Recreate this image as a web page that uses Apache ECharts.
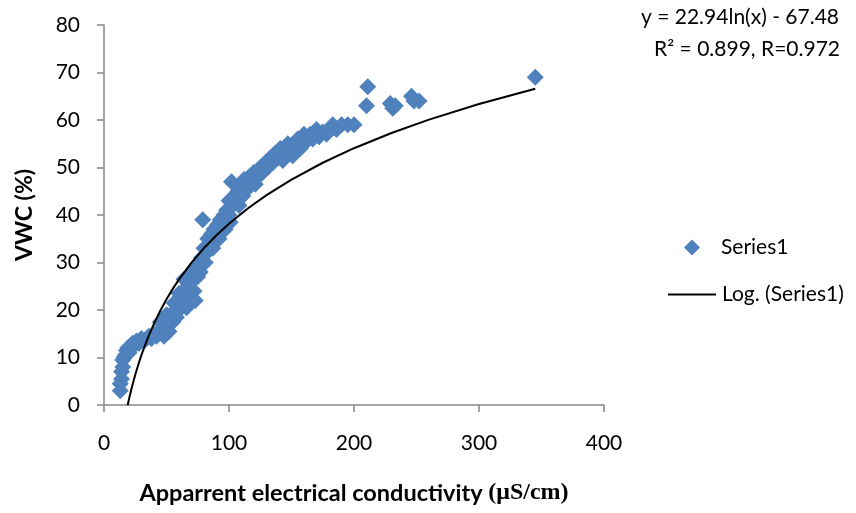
<!DOCTYPE html>
<html>
<head>
<meta charset="utf-8">
<script src="https://cdn.jsdelivr.net/npm/echarts@6/dist/echarts.min.js"></script>
<style>
  html, body { margin: 0; padding: 0; background: #fff; }
  #chart { width: 856px; height: 513px; }
</style>
</head>
<body>
<div id="chart"></div>
<script>
// apparent EC (uS/cm) and VWC (%)
var ecValues = [
  13, 13, 14, 14, 15, 15, 16, 17, 18, 19, 20, 21, 23, 24, 26, 28, 30, 32, 34, 36,
  38, 40, 42, 44, 45, 46, 48, 48, 50, 50, 52, 52, 54, 55, 56, 57, 58, 58, 60, 60,
  61, 62, 63, 64, 65, 66, 66, 67, 68, 70, 71, 72, 73, 74, 75, 76, 77, 78, 79, 80,
  81, 82, 83, 85, 86, 87, 88, 90, 91, 92, 93, 95, 96, 97, 98, 100, 100, 101, 102, 103,
  104, 106, 107, 108, 110, 111, 112, 113, 115, 116, 118, 120, 121, 123, 125, 127, 129, 131, 133, 135,
  137, 139, 141, 143, 145, 147, 149, 151, 153, 155, 157, 160, 162, 165, 167, 170, 172, 175, 178, 180,
  183, 186, 190, 195, 200, 210, 211, 229, 231, 233, 246, 248, 252, 345
];
var vwcValues = [
  3, 4.5, 5.5, 7, 8, 9.5, 10, 10.5, 11.5, 12, 11, 12.5, 13, 12.5, 13.5, 13, 14, 13.5, 14, 14.5,
  14, 15, 14.5, 15.5, 17.5, 16, 17, 14.5, 16.5, 19, 18, 15.5, 19, 17.5, 21.5, 20, 21, 18.5, 20, 23.5,
  22, 23, 21, 26.5, 24, 22.5, 20.5, 25, 27, 26, 28, 24, 22, 29, 27, 30, 28, 31, 39, 33,
  30, 32, 35, 34, 36, 33, 37, 36, 38, 35, 39, 38, 40, 37, 41, 40, 43, 38.5, 47, 42,
  44, 43, 45, 42, 46, 44, 47.5, 45, 46, 48, 47, 49, 46.5, 48, 50, 49, 51, 50, 52, 51,
  53, 52, 54, 51.5, 53, 55, 54, 52.5, 55, 56, 54, 57, 55.5, 57, 56, 58, 56.5, 57.5, 57, 58,
  59, 58, 59, 59, 59, 63, 67, 63.5, 62.5, 63, 65, 64, 64, 69
];

// log trendline y = 22.94ln(x) - 67.48, values worked out at these x
var trendX = [18.9, 19, 20, 21, 22, 24, 26, 28, 30, 33, 36, 40, 45, 50, 55, 60, 70, 80, 90, 100, 115, 130, 150, 175, 200, 230, 260, 300, 345];
var trendY = [-0.06, 0.07, 1.24, 2.36, 3.43, 5.43, 7.26, 8.96, 10.54, 12.73, 14.73, 17.14, 19.85, 22.26, 24.45, 26.44, 29.98, 33.04, 35.75, 38.16, 41.37, 44.18, 47.46, 51.00, 54.06, 57.27, 60.08, 63.37, 66.57];

var xTicks = [0, 100, 200, 300, 400];
var yTicks = [0, 10, 20, 30, 40, 50, 60, 70, 80];

var font = 'Lato, "Open Sans", sans-serif';
var axisGray = '#868686';

var scatterData = [];
for (var i = 0; i < ecValues.length; i++) scatterData.push([ecValues[i], vwcValues[i]]);
var trendData = [];
for (var j = 0; j < trendX.length; j++) trendData.push([trendX[j], trendY[j]]);

var chart = echarts.init(document.getElementById('chart'), null, { renderer: 'canvas' });

var option = {
  backgroundColor: '#fff',
  animation: false,
  textStyle: { fontFamily: font, color: '#000' },
  grid: { left: 104, top: 25, width: 500, height: 380, containLabel: false },
  legend: [
    {
      left: 679,
      top: 232,
      icon: 'diamond',
      itemWidth: 16,
      itemHeight: 16,
      textStyle: { fontFamily: font, fontSize: 21, color: '#000', padding: [0, 0, 0, 16] },
      data: ['Series1']
    },
    {
      left: 663,
      top: 279,
      itemWidth: 48,
      itemHeight: 2,
      textStyle: { fontFamily: font, fontSize: 21, color: '#000', padding: [0, 0, 0, 1] },
      data: [{ name: 'Log. (Series1)', icon: 'rect', itemStyle: { color: '#000' } }]
    }
  ],
  xAxis: {
    type: 'value',
    min: xTicks[0],
    max: xTicks[xTicks.length - 1],
    interval: 100,
    name: '{a|Apparrent electrical conductivity }{b|(μS/cm)}',
    nameLocation: 'middle',
    nameGap: 76,
    nameTextStyle: {
      rich: {
        a: { fontFamily: font, fontWeight: 'bold', fontSize: 23.5, color: '#000' },
        b: { fontFamily: '"Liberation Serif", serif', fontWeight: 'bold', fontSize: 24, color: '#000' }
      }
    },
    axisLine: { lineStyle: { color: axisGray, width: 1.5 } },
    axisTick: { show: true, length: 7, lineStyle: { color: axisGray, width: 1.5 } },
    axisLabel: { fontFamily: font, fontSize: 21, color: '#000', margin: 28 },
    splitLine: { show: false }
  },
  yAxis: {
    type: 'value',
    min: yTicks[0],
    max: yTicks[yTicks.length - 1],
    interval: 10,
    name: 'VWC (%)',
    nameLocation: 'middle',
    nameRotate: 90,
    nameGap: 68,
    nameTextStyle: { fontFamily: font, fontWeight: 'bold', fontSize: 23, color: '#000' },
    axisLine: { show: true, lineStyle: { color: axisGray, width: 1.5 } },
    axisTick: { show: true, length: 7, lineStyle: { color: axisGray, width: 1.5 } },
    axisLabel: { fontFamily: font, fontSize: 21, color: '#000', margin: 24 },
    splitLine: { show: false }
  },
  graphic: [
    {
      type: 'text', right: 17, top: 7,
      style: { text: 'y = 22.94ln(x) - 67.48', font: '21px ' + font, fill: '#000' }
    },
    {
      type: 'text', right: 16, top: 39,
      style: { text: 'R² = 0.899, R=0.972', font: '21px ' + font, fill: '#000' }
    }
  ],
  series: [
    {
      name: 'Series1',
      type: 'scatter',
      symbol: 'diamond',
      symbolSize: 17,
      itemStyle: { color: '#4F81BD', opacity: 1 },
      data: scatterData
    },
    {
      name: 'Log. (Series1)',
      type: 'line',
      data: trendData,
      smooth: false,
      showSymbol: false,
      symbol: 'none',
      clip: true,
      lineStyle: { color: '#000', width: 2 },
      itemStyle: { color: '#000' },
      z: 3
    }
  ]
};

chart.setOption(option);
</script>
</body>
</html>
